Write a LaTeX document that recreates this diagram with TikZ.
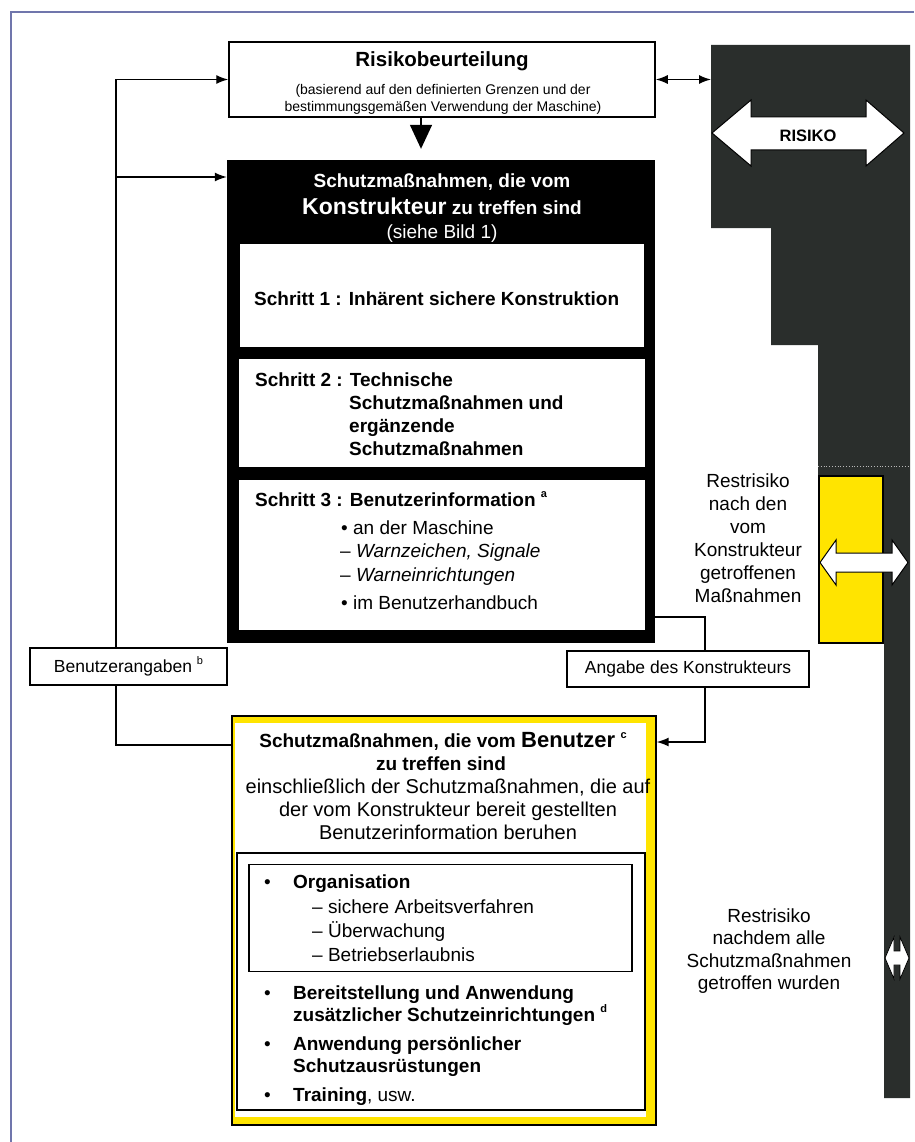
\documentclass[tikz,border=0pt]{standalone}
\usepackage{fontspec}
\setmainfont{Liberation Sans}
\usetikzlibrary{arrows.meta}
\definecolor{darkcol}{RGB}{42,46,44}
\definecolor{ylw}{RGB}{255,228,0}
\definecolor{framec}{RGB}{112,118,172}
\newcommand\mysup[1]{\raisebox{0.45em}{\fontsize{11}{11}\selectfont #1}}
\begin{document}
\begin{tikzpicture}[x=1pt,y=-1pt,
  box/.style={draw=black, line width=1.5pt, inner sep=0pt, rectangle},
  wbox/.style={fill=white, inner sep=0pt, rectangle},
  ln/.style={line width=1.4pt},
  arr/.style={line width=1.4pt, -{Latex[length=12pt,width=9pt]}},
  darr/.style={line width=1.4pt, {Latex[length=12pt,width=9pt]}-{Latex[length=12pt,width=9pt]}},
  tr/.style={font=\fontsize{19}{23}\selectfont, inner sep=0pt},
  trr/.style={font=\fontsize{20}{23}\selectfont, inner sep=0pt},
  tb/.style={font=\fontsize{19}{23}\selectfont\bfseries, inner sep=0pt},
  fat/.style={fill=white, draw=black, line width=1pt, line join=miter}
]
\useasboundingbox (0,0) rectangle (914,1142);
% frame
\draw[framec, line width=1.5pt] (11,1142) -- (11,12) -- (914,12);

% risk column
\fill[darkcol] (711,45) -- (910,45) -- (910,1098) -- (884,1098) -- (884,643) -- (818,643) -- (818,345) -- (771,345) -- (771,228) -- (711,228) -- cycle;
\draw[gray!55, dotted, line width=0.8pt] (818,466) -- (910,466);
\node[fill=ylw, draw=black, line width=1.5pt, inner sep=0pt, minimum width=64pt, minimum height=167pt] (yk) at (851,559.5) {};
\coordinate (colL) at (711,79.5);

% white arrows
\draw[fat] (712,133) -- (751,100) -- (751,117) -- (866,117) -- (866,100) -- (904,133) -- (866,166) -- (866,150) -- (751,150) -- (751,166) -- cycle;
\node[font=\fontsize{16.5}{18}\selectfont\bfseries, inner sep=0pt, anchor=base] (risiko) at (808,142) {RISIKO};
\draw[fat] (820,562.5) -- (836,540) -- (836,553) -- (892,553) -- (892,540) -- (908,562.5) -- (892,585) -- (892,572) -- (836,572) -- (836,585) -- cycle;
\draw[fat, line width=0.8pt] (885,958) -- (894,937) -- (894,951) -- (900,951) -- (900,937) -- (909,958) -- (900,979) -- (900,965) -- (894,965) -- (894,979) -- cycle;

% Restrisiko texts
\node[tr, anchor=base] (rr1) at (748,487) {Restrisiko};
\node[tr, anchor=base] (rr2) at (748,510) {nach den};
\node[tr, anchor=base] (rr3) at (748,533) {vom};
\node[tr, anchor=base] (rr4) at (748,556) {Konstrukteur};
\node[tr, anchor=base] (rr5) at (748,579) {getroffenen};
\node[tr, anchor=base] (rr6) at (748,602) {Maßnahmen};
\node[tr, anchor=base] (ra1) at (769,922) {Restrisiko};
\node[tr, anchor=base] (ra2) at (769,944) {nachdem alle};
\node[tr, anchor=base] (ra3) at (769,967) {Schutzmaßnahmen};
\node[tr, anchor=base] (ra4) at (769,989) {getroffen wurden};

% Risikobeurteilung
\node[box, minimum width=426pt, minimum height=75pt] (risk) at (442,79.5) {};
\node[font=\fontsize{20.5}{22}\selectfont\bfseries, inner sep=0pt, anchor=base] (riskt) at (442,67) {Risikobeurteilung};
\node[font=\fontsize{14}{17}\selectfont, inner sep=0pt, anchor=base] (risks1) at (443,95) {(basierend auf den definierten Grenzen und der};
\node[font=\fontsize{14}{17}\selectfont, inner sep=0pt, anchor=base] (risks2) at (443,112) {bestimmungsgemäßen Verwendung der Maschine)};

% Konstrukteur block
\node[fill=black, inner sep=0pt, minimum width=428pt, minimum height=483pt] (black) at (441,401.5) {};
\node[wbox, minimum width=404pt, minimum height=103pt] (s1) at (442,295.5) {};
\node[wbox, minimum width=406pt, minimum height=108pt] (s2) at (442,413) {};
\node[wbox, minimum width=406pt, minimum height=150pt] (s3) at (442,555) {};
\node[tb, text=white, anchor=base] (h1) at (442,188) {Schutzmaßnahmen, die vom};
\node[tb, text=white, anchor=base] (h2) at (442,214) {{\fontsize{23}{23}\selectfont Konstrukteur} zu treffen sind};
\node[tr, text=white, anchor=base] (h3) at (442,238) {(siehe Bild 1)};
\node[tb, anchor=base west] (s1t) at (254,305) {Schritt 1 : Inhärent sichere Konstruktion};
\node[tb, anchor=base west] (s2a) at (255,386) {Schritt 2 : Technische};
\node[tb, anchor=base west] (s2b) at (349,409) {Schutzmaßnahmen und};
\node[tb, anchor=base west] (s2c) at (349,432) {ergänzende};
\node[tb, anchor=base west] (s2d) at (349,455) {Schutzmaßnahmen};
\node[tb, anchor=base west] (s3a) at (255,506) {Schritt 3 : Benutzerinformation \mysup{a}};
\node[tr, anchor=base west] (s3b) at (341,534) {• an der Maschine};
\node[tr, anchor=base west] (s3c) at (340,557) {– \textit{Warnzeichen, Signale}};
\node[tr, anchor=base west] (s3d) at (340,581) {– \textit{Warneinrichtungen}};
\node[tr, anchor=base west] (s3e) at (341,609) {• im Benutzerhandbuch};

% side boxes
\node[box, line width=1.2pt, minimum width=197pt, minimum height=37pt, font=\fontsize{17.5}{20}\selectfont] (benutz) at (128.5,666.5) {Benutzerangaben \mysup{b}};
\node[box, line width=1.2pt, minimum width=242pt, minimum height=36pt, font=\fontsize{17.5}{20}\selectfont] (angabe) at (688,669) {Angabe des Konstrukteurs};

% Benutzer block
\node[fill=ylw, draw=black, line width=1.3pt, inner sep=0pt, minimum width=424pt, minimum height=409pt] (yellow) at (444,920.5) {};
\fill[white] (235,723) rectangle (646,1117);
\node[draw=black, line width=1.3pt, inner sep=0pt, minimum width=408pt, minimum height=257pt] (inner) at (441,981.5) {};
\node[draw=black, line width=1.6pt, inner sep=0pt, minimum width=383pt, minimum height=107pt] (orga) at (440.5,918) {};
\node[tb, anchor=base] (y1) at (443,747) {Schutzmaßnahmen, die vom {\fontsize{22}{22}\selectfont Benutzer} \mysup{c}};
\node[tb, anchor=base] (y2) at (441,770) {zu treffen sind};
\node[trr, anchor=base] (y3) at (448,793) {einschließlich der Schutzmaßnahmen, die auf};
\node[trr, anchor=base] (y4) at (448,816) {der vom Konstrukteur bereit gestellten};
\node[trr, anchor=base] (y5) at (448,839) {Benutzerinformation beruhen};
\node[tr, anchor=base west] (b1) at (264,888) {•};
\node[tb, anchor=base west] (o1) at (293,888) {Organisation};
\node[tr, anchor=base west] (o2) at (312,913) {– sichere Arbeitsverfahren};
\node[tr, anchor=base west] (o3) at (312,937) {– Überwachung};
\node[tr, anchor=base west] (o4) at (312,961) {– Betriebserlaubnis};
\node[tr, anchor=base west] (b2) at (264,999) {•};
\node[tb, anchor=base west] (p1) at (293,999) {Bereitstellung und Anwendung};
\node[tb, anchor=base west] (p2) at (293,1021) {zusätzlicher Schutzeinrichtungen \mysup{d}};
\node[tr, anchor=base west] (b3) at (264,1050) {•};
\node[tb, anchor=base west] (q1) at (293,1050) {Anwendung persönlicher};
\node[tb, anchor=base west] (q2) at (293,1072) {Schutzausrüstungen};
\node[tr, anchor=base west] (b4) at (264,1101) {•};
\node[tr, anchor=base west] (tt) at (293,1101) {\textbf{Training}, usw.};

% connectors
\coordinate (dn) at (421,0);
\draw[line width=1.5pt, -{Triangle[width=22pt,length=24pt]}, shorten >=11pt] (risk.south -| dn) -- (black.north -| dn);
\draw[darr] (risk.east) -- (colL);
\coordinate (lt) at (116,79.5);
\coordinate (l2) at (116,177);
\coordinate (lb) at (116,745);
\draw[arr] (lt) -- (risk.west);
\draw[arr] (l2) -- (l2 -| black.west);
\draw[ln] (lt) -- (lt |- benutz.north);
\draw[ln] (lt |- benutz.south) -- (lb) -- (lb -| yellow.west);
\coordinate (r1) at (705,617);
\coordinate (r2) at (705,742);
\draw[ln] (r1 -| black.east) -- (r1) -- (r1 |- angabe.north);
\draw[arr] (r1 |- angabe.south) -- (r2) -- (r2 -| yellow.east);
\end{tikzpicture}
\end{document}
